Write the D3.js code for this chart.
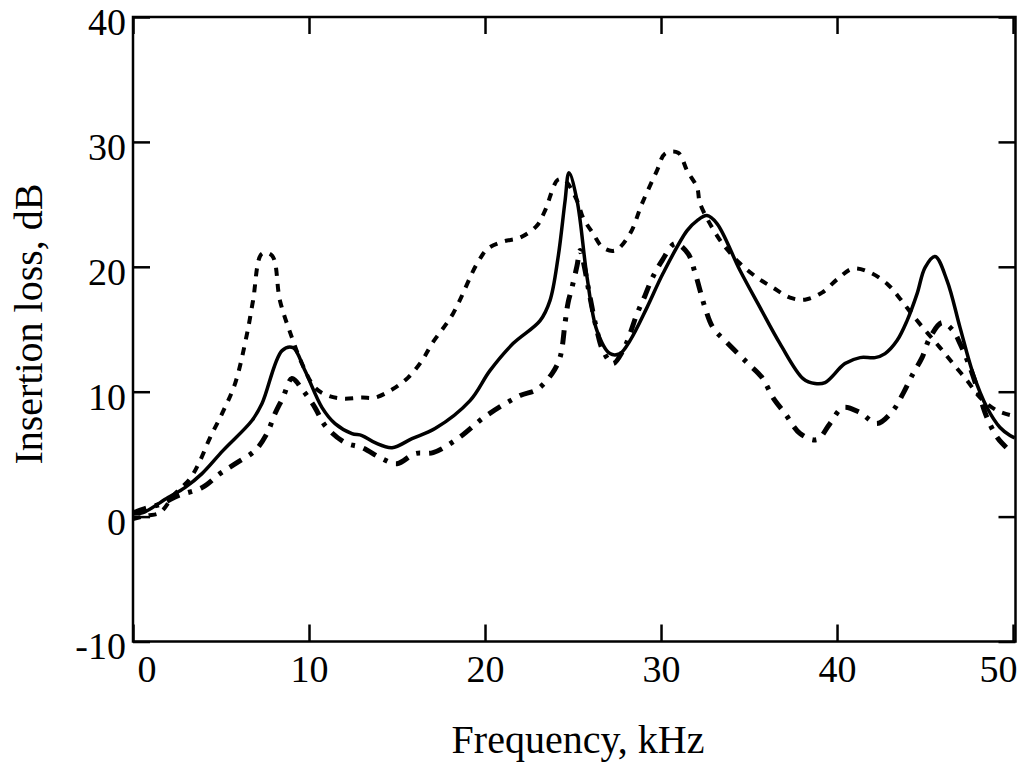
<!DOCTYPE html>
<html>
<head>
<meta charset="utf-8">
<script src="https://cdn.jsdelivr.net/npm/d3@7"></script>
<style>
  body { margin: 0; background: #fff; }
  svg text { font-family: "Liberation Serif", "DejaVu Serif", serif; fill: #000; }
</style>
</head>
<body>
<svg id="chart" width="1021" height="774"></svg>
<script>
// tick values
var xTicks = [0, 10, 20, 30, 40, 50];
var yTicks = [-10, 0, 10, 20, 30, 40];
var yTickLabels = ["-10", "0", "10", "20", "30", "40"];

// solid curve
var solidFreq = [0, 0.57, 1.99, 2.95, 3.92, 5.11, 6.76, 7.33, 8.47, 9.09, 9.77, 10.74, 11.48, 12.44, 13.01, 13.75, 14.72, 15.85, 17.16,
  19.15, 20.28, 21.59, 23.13, 23.69, 24.15, 24.55, 24.77, 25.23, 25.8, 26.36, 27.1, 27.67, 28.24, 29.2, 30.11, 31.48, 32.05, 32.61, 33.18,
  34.49, 35.63, 36.76, 38.07, 38.75, 39.32, 40.45, 41.31, 42.16, 42.73, 43.41, 43.98, 44.55, 45.0, 45.57, 46.25, 46.99, 47.73, 48.52, 49.26, 49.83, 50.1];
var solidLoss = [0.2, 0.32, 1.52, 2.32, 3.44, 5.28, 7.69, 9.05, 13.29, 13.53, 11.69, 8.73, 7.45, 6.65, 6.49, 5.92, 5.52, 6.24, 7.05,
  9.29, 11.69, 13.85, 15.69, 17.29, 20.74, 25.3, 27.54, 25.3, 19.14, 14.89, 13.05, 13.05, 14.09, 16.73, 19.46, 22.9, 23.7, 24.1, 23.46,
  19.7, 16.73, 13.85, 11.05, 10.65, 10.73, 12.25, 12.73, 12.73, 13.05, 14.09, 15.69, 17.85, 19.94, 20.82, 18.9, 15.13, 11.45, 8.73, 7.13, 6.49, 6.3];

// short-dash curve
var dashFreq = [0, 0.8, 1.53, 2.39, 3.24, 3.81, 4.38, 5.06, 5.8, 6.48, 6.82, 7.33, 7.9, 8.35, 9.03, 9.6, 10.34, 11.08, 11.93, 13.01, 13.75,
  14.72, 15.63, 16.42, 16.99, 18.18, 19.55, 20.17, 21.02, 21.99, 22.95, 23.41, 24.15, 24.55, 25.23, 25.57, 26.14, 26.7, 27.39, 28.24,
  28.92, 29.77, 30.23, 30.97, 31.48, 32.05, 32.22, 33.18, 33.81, 34.49, 35.45, 36.36, 37.33, 38.18, 39.15, 40.06, 40.91, 41.88, 42.84,
  43.58, 44.32, 45.17, 45.85, 46.59, 47.39, 48.13, 49.09, 49.94];
var dashLoss = [-0.2, 0.08, 0.32, 1.84, 3.04, 4.48, 6.33, 8.25, 10.65, 14.65, 17.29, 21.06, 20.9, 17.29, 14.33, 12.25, 10.33, 9.69, 9.45, 9.53, 9.53,
  10.17, 11.13, 12.49, 13.85, 16.25, 20.26, 21.46, 22.02, 22.34, 23.3, 24.5, 26.98, 26.9, 25.3, 23.94, 22.66, 21.54, 21.3, 22.66,
  25.06, 27.7, 29.06, 29.14, 27.7, 26.34, 25.06, 22.5, 21.3, 20.26, 19.14, 18.33, 17.53, 17.37, 17.93, 19.06, 19.86, 19.54, 18.65,
  17.45, 16.09, 14.65, 13.53, 12.25, 10.89, 9.53, 8.49, 8.09];

// dash-dot curve
var dashDotFreq = [0, 0.68, 1.65, 2.56, 3.92, 4.94, 5.91, 6.93, 7.61, 8.07, 8.52, 9.03, 9.66, 10.34, 10.91, 12.05, 13.01, 14.15, 15.0, 16.02, 17.05,
  18.5, 20.0, 21.99, 22.95, 23.81, 24.26, 24.55, 24.72, 24.94, 25.23, 25.4, 25.57, 25.97, 26.36, 26.7, 27.27, 27.84, 28.24, 28.64, 29.09,
  29.49, 30.06, 30.8, 31.53, 31.93, 32.22, 32.5, 32.95, 33.75, 34.89, 35.74, 36.36, 37.05, 37.9, 38.86, 39.6, 40.34, 41.31, 42.27, 43.18,
  43.75, 44.32, 44.83, 45.28, 45.97, 46.59, 46.99, 47.56, 48.13, 48.52, 49.15, 49.94];
var dashDotLoss = [0.3, 0.64, 1.04, 1.68, 2.32, 3.44, 4.32, 5.28, 6.65, 8.25, 9.53, 11.05, 10.09, 8.73, 7.29, 5.92, 5.52, 4.64, 4.24, 5.04, 5.12,
  6.3, 8.0, 9.69, 10.17, 11.45, 12.73, 15.53, 17.13, 18.33, 20.1, 21.3, 20.5, 17.53, 14.89, 13.29, 12.25, 13.29, 14.65, 16.25, 17.69,
  19.06, 20.5, 21.86, 21.06, 19.54, 18.09, 16.73, 15.13, 13.93, 12.33, 11.13, 9.53, 8.25, 6.65, 6.16, 7.45, 8.73, 8.33, 7.45, 8.49,
  9.85, 11.45, 12.73, 14.33, 15.53, 14.89, 13.85, 11.93, 9.53, 7.93, 6.25, 5.12];

var svg = d3.select("#chart"),
    margin = {top: 17, right: 5.5, bottom: 132.5, left: 133},
    width = 1021 - margin.left - margin.right,
    height = 774 - margin.top - margin.bottom,
    g = svg.append("g").attr("transform", "translate(" + margin.left + "," + margin.top + ")");

var x = d3.scaleLinear().domain([0, 50.14]).range([0, width]);
var y = d3.scaleLinear().domain([-10, 40]).range([height, 0]);

var tickLen = 17;

// axes with inward ticks
var xAxisBottom = g.append("g")
    .attr("transform", "translate(0," + height + ")")
    .call(d3.axisBottom(x).tickValues(xTicks).tickSize(-tickLen).tickPadding(14).tickFormat(d3.format("d")));
var xAxisTop = g.append("g")
    .call(d3.axisTop(x).tickValues(xTicks).tickSize(-tickLen).tickFormat(""));
var yAxisLeft = g.append("g")
    .call(d3.axisLeft(y).tickValues(yTicks).tickSize(-tickLen).tickPadding(7)
      .tickFormat(function(d, i) { return yTickLabels[i]; }));
var yAxisRight = g.append("g")
    .attr("transform", "translate(" + width + ",0)")
    .call(d3.axisRight(y).tickValues(yTicks).tickSize(-tickLen).tickFormat(""));

[xAxisBottom, xAxisTop, yAxisLeft, yAxisRight].forEach(function(ax) {
  ax.attr("font-size", 38).attr("font-family", "Liberation Serif");
  ax.select(".domain").remove();
  ax.selectAll(".tick line").attr("stroke", "#000").attr("stroke-width", 2.5);
});
yAxisLeft.selectAll("text").attr("dy", "0.46em");

// first and last x labels nudged off the frame corners
xAxisBottom.selectAll(".tick text")
  .attr("text-anchor", function(d, i) { return i == 0 ? "start" : (i == xTicks.length - 1 ? "end" : "middle"); })
  .attr("x", function(d, i) { return i == 0 ? 4 : (i == xTicks.length - 1 ? 4 : 0); });

// frame
g.append("rect")
  .attr("x", 0).attr("y", 0)
  .attr("width", width).attr("height", height)
  .attr("fill", "none")
  .attr("stroke", "#000")
  .attr("stroke-width", 2.5);

var line = d3.line()
  .x(function(d) { return x(d[0]); })
  .y(function(d) { return y(d[1]); })
  .curve(d3.curveCatmullRom.alpha(0.5));

var series = [
  {freq: dashFreq, loss: dashLoss, width: 4, dash: "8,8"},
  {freq: dashDotFreq, loss: dashDotLoss, width: 5, dash: "14,9,4,9"},
  {freq: solidFreq, loss: solidLoss, width: 3.5, dash: null}
];

series.forEach(function(s) {
  var pts = s.freq.map(function(f, i) { return [f, s.loss[i]]; });
  g.append("path")
    .datum(pts)
    .attr("d", line)
    .attr("fill", "none")
    .attr("stroke", "#000")
    .attr("stroke-width", s.width)
    .attr("stroke-dasharray", s.dash);
});

// axis titles
svg.append("text")
  .attr("x", 578)
  .attr("y", 753)
  .attr("text-anchor", "middle")
  .attr("font-size", 40)
  .text("Frequency, kHz");

svg.append("text")
  .attr("transform", "translate(42,324) rotate(-90)")
  .attr("text-anchor", "middle")
  .attr("font-size", 40)
  .text("Insertion loss, dB");
</script>
</body>
</html>
